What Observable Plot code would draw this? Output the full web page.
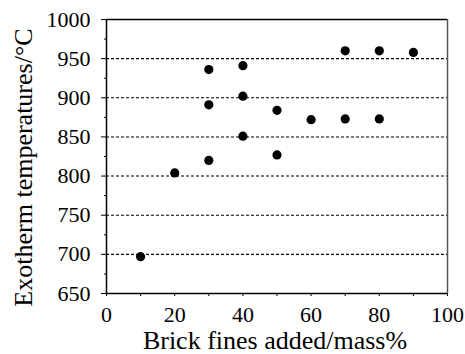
<!DOCTYPE html>
<html><head><meta charset="utf-8">
<script src="https://cdn.jsdelivr.net/npm/d3@7"></script>
<script src="https://cdn.jsdelivr.net/npm/@observablehq/plot@0.6"></script>
<style>body{margin:0;background:#fff} svg, svg text{font-family:"Liberation Serif","Times New Roman",serif !important}</style>
</head><body><div id="chart"></div>
<script>
const brickFines = [10, 20, 30, 30, 30, 40, 40, 40, 50, 50, 60, 70, 70, 80, 80, 90];
const exothermTemps = [697, 804, 936, 891, 820, 941, 902, 851, 884, 827, 872, 960, 873, 960, 873, 958];
const xTickLabels = [0, 20, 40, 60, 80, 100];
const xTicks = [0, 10, 20, 30, 40, 50, 60, 70, 80, 90, 100];
const yTickLabels = [650, 700, 750, 800, 850, 900, 950, 1000];
const yMinorTicks = [675, 725, 775, 825, 875, 925, 975];
const gridValues = [700, 750, 800, 850, 900, 950];
const xLabel = "Brick fines added/mass%";
const yLabel = "Exotherm temperatures/°C";

const data = brickFines.map((x, i) => ({x, y: exothermTemps[i]}));
const serif = "Liberation Serif";

const chart = Plot.plot({
  width: 465,
  height: 354,
  marginLeft: 106,
  marginRight: 18,
  marginTop: 19,
  marginBottom: 61,
  style: {fontSize: "22px", fontFamily: serif, color: "black", background: "white"},
  x: {domain: [0, 100]},
  y: {domain: [650, 1000]},
  marks: [
    Plot.ruleY(gridValues, {stroke: "black", strokeDasharray: "3,2", strokeWidth: 1.1}),
    Plot.dot(data, {x: "x", y: "y", r: 4.6, fill: "black", stroke: "none"}),
    Plot.ruleY([650, 1000], {stroke: "black", strokeWidth: 1.5}),
    Plot.ruleX([0], {stroke: "black", strokeWidth: 1.5}),
    Plot.ruleX([100], {stroke: "#555", strokeWidth: 1.5}),
    Plot.axisY(yTickLabels, {tickSize: 5, tickPadding: 11, tickFormat: d => String(d), fontSize: 22, fontFamily: serif, fill: "black", label: null}),
    Plot.axisY(yMinorTicks, {tickSize: 2, tickFormat: () => "", label: null}),
    Plot.axisX(xTicks, {tickSize: 3, tickFormat: () => "", label: null}),
    Plot.axisX(xTickLabels, {tickSize: 0, tickPadding: 13, tickFormat: d => String(d), fontSize: 22, fontFamily: serif, fill: "black", label: null}),
    Plot.text([xLabel], {frameAnchor: "bottom", dy: 47, dx: -2, textAnchor: "middle", lineAnchor: "middle", fontSize: 26, fontFamily: serif, fill: "black"}),
    Plot.text([yLabel], {frameAnchor: "left", dx: -83, dy: 11, rotate: -90, textAnchor: "middle", lineAnchor: "middle", fontSize: 26, fontFamily: serif, fill: "black"})
  ]
});
document.getElementById("chart").appendChild(chart);
</script>
</body></html>
